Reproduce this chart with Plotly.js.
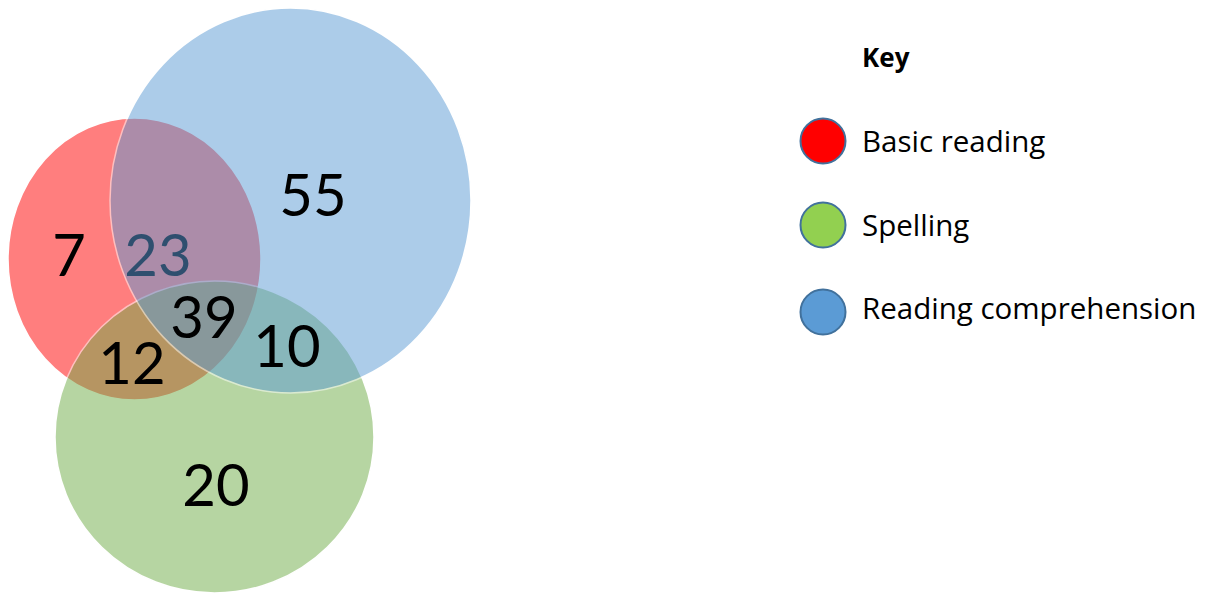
<!DOCTYPE html>
<html>
<head>
<meta charset="utf-8">
<script src="https://cdn.plot.ly/plotly-3.0.1.min.js"></script>
<style>html,body{margin:0;padding:0;background:#fff;}#chart{width:1221px;height:597px;}</style>
</head>
<body>
<div id="chart"></div>
<script>
// ---- data ----
var setNames = ["Basic reading", "Spelling", "Reading comprehension"];
var regionLabels = ["Basic reading only", "Basic reading & Reading comprehension", "Reading comprehension only",
                    "All three", "Basic reading & Spelling", "Spelling & Reading comprehension", "Spelling only"];
var regionCounts = [7, 23, 55, 39, 12, 10, 20];
var keyTitle = "Key";

// ---- layout geometry (pixel space) ----
var setColors = ["#FF0000", "#70AD47", "#5B9BD5"];
var keyColors = ["#FF0000", "#92D050", "#5B9BD5"];
var setShapes = [
  {x0: 8, x1: 261, y0: 118, y1: 400},
  {x0: 55, x1: 374, y0: 281, y1: 593},
  {x0: 110, x1: 471, y0: 8, y1: 393}
];
var regionPos = [[69, 261], [158, 261], [313, 201], [204, 323], [132, 369], [287, 352], [216, 491]];
var regionTextColors = ["#000", "#2F4F6F", "#000", "#000", "#000", "#000", "#000"];
var keyY = [141, 225, 312];
var textY = [140, 224, 307];

var shapes = setShapes.map(function (s, i) {
  return {type: "circle", xref: "x", yref: "y", x0: s.x0, x1: s.x1, y0: s.y0, y1: s.y1,
          fillcolor: setColors[i], opacity: 0.5, layer: "below",
          line: {color: "#FFFFFF", width: 1.5}};
});

var countTrace = {
  type: "scatter", mode: "text", hoverinfo: "text",
  x: regionPos.map(function (p) { return p[0]; }),
  y: regionPos.map(function (p) { return p[1]; }),
  text: regionCounts.map(String),
  hovertext: regionLabels.map(function (l, i) { return l + ": " + regionCounts[i]; }),
  textposition: "middle center",
  textfont: {family: "Lato, 'Open Sans', sans-serif", size: 58, color: regionTextColors},
  showlegend: false
};

var keyTrace = {
  type: "scatter", mode: "markers", hoverinfo: "text",
  x: setNames.map(function () { return 823; }),
  y: keyY,
  hovertext: setNames,
  marker: {size: 45, color: keyColors, line: {color: "#41719C", width: 2}},
  showlegend: false
};

var annotations = setNames.map(function (n, i) {
  return {xref: "x", yref: "y", x: 860, y: textY[i], text: n, showarrow: false,
          xanchor: "left", yanchor: "middle",
          font: {family: "'Open Sans', sans-serif", size: 29.5, color: "#000"}};
});
annotations.push({xref: "x", yref: "y", x: 860, y: 57, text: "<b>" + keyTitle + "</b>", showarrow: false,
                  xanchor: "left", yanchor: "middle",
                  font: {family: "'Open Sans', sans-serif", size: 26, color: "#000"}});

var layout = {
  width: 1221, height: 597,
  margin: {l: 0, r: 0, t: 0, b: 0},
  paper_bgcolor: "#FFFFFF", plot_bgcolor: "#FFFFFF",
  xaxis: {range: [0, 1221], visible: false, fixedrange: true},
  yaxis: {range: [597, 0], visible: false, fixedrange: true},
  shapes: shapes,
  annotations: annotations,
  showlegend: false
};

Plotly.newPlot("chart", [countTrace, keyTrace], layout, {displayModeBar: false, staticPlot: true});
</script>
</body>
</html>
